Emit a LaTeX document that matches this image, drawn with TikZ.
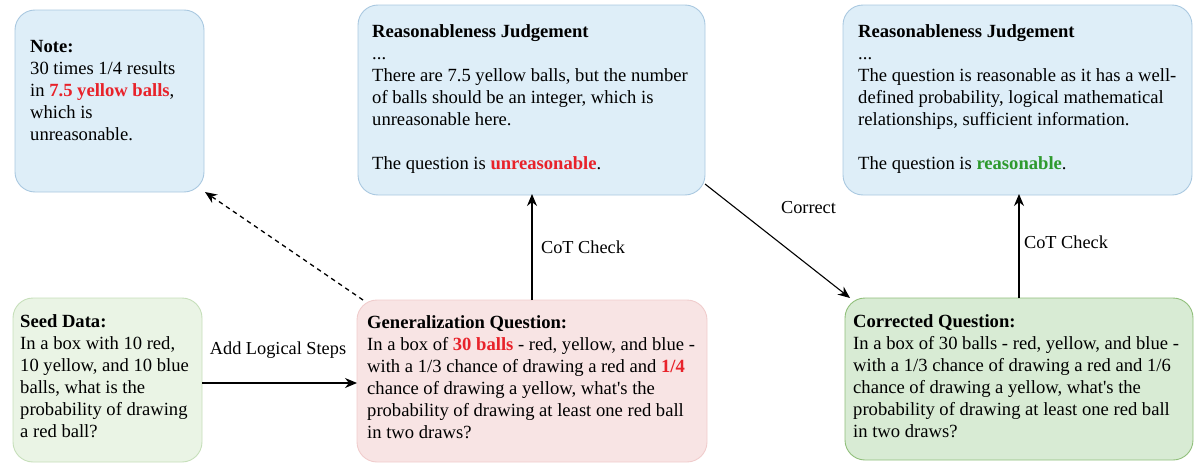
\documentclass[tikz,border=0pt]{standalone}
\usepackage{fontspec}
\setmainfont{Liberation Serif}
\usetikzlibrary{arrows.meta}
\definecolor{bluefill}{HTML}{DEEEF8}
\definecolor{bluedraw}{HTML}{A9C8E0}
\definecolor{pinkfill}{HTML}{F8E4E4}
\definecolor{pinkdraw}{HTML}{F0CCCC}
\definecolor{seedfill}{HTML}{EAF4E5}
\definecolor{seeddraw}{HTML}{C6DFBA}
\definecolor{corrfill}{HTML}{D8EBD4}
\definecolor{corrdraw}{HTML}{90BF7A}
\definecolor{hired}{HTML}{E8222A}
\definecolor{higreen}{HTML}{2E9A2E}
\newcommand{\rd}[1]{\textcolor{hired}{\textbf{#1}}}
\newcommand{\gr}[1]{\textcolor{higreen}{\textbf{#1}}}
\newcommand{\ap}{\textquotesingle}
\tikzset{
  panel/.style={draw, line width=0.9pt, rounded corners=20pt, inner sep=0pt},
  txt/.style={anchor=north west, inner sep=0pt, align=left, font=\fontsize{18.6}{22}\selectfont},
  lbl/.style={inner sep=0pt, font=\fontsize{18.3}{22}\selectfont},
  arr/.style={line width=1.1pt, -{Stealth[length=12pt, width=10pt]}},
}
\begin{document}
\begin{tikzpicture}[x=1pt, y=-1pt]
\useasboundingbox (0,0) rectangle (1203,463);
% boxes
\node[panel, fill=bluefill, draw=bluedraw, minimum width=189pt, minimum height=182pt] (note) at (109.5,101) {};
\node[panel, fill=bluefill, draw=bluedraw, minimum width=347pt, minimum height=190pt] (r1) at (531.5,100) {};
\node[panel, fill=bluefill, draw=bluedraw, minimum width=349pt, minimum height=190pt] (r2) at (1017.5,100) {};
\node[panel, fill=seedfill, draw=seeddraw, minimum width=189pt, minimum height=164pt] (seed) at (107.5,380) {};
\node[panel, fill=pinkfill, draw=pinkdraw, minimum width=350pt, minimum height=162pt] (gen) at (532,381) {};
\node[panel, fill=corrfill, draw=corrdraw, minimum width=348pt, minimum height=162pt] (corr) at (1019,379) {};
% texts
\node[txt] (notet) at (30,36.6) {\strut\textbf{Note:}\\30 times 1/4 results\\in \rd{7.5 yellow balls},\\which is\\unreasonable.};
\node[txt] (r1t) at (372,21.6) {\strut\textbf{Reasonableness Judgement}\\...\\There are 7.5 yellow balls, but the number\\of balls should be an integer, which is\\unreasonable here.\\[22pt]The question is \rd{unreasonable}.};
\node[txt] (r2t) at (858,21.6) {\strut\textbf{Reasonableness Judgement}\\...\\The question is reasonable as it has a well-\\defined probability, logical mathematical\\relationships, sufficient information.\\[22pt]The question is \gr{reasonable}.};
\node[txt] (seedt) at (20,311.6) {\strut\textbf{Seed Data:}\\In a box with 10 red,\\10 yellow, and 10 blue\\balls, what is the\\probability of drawing\\a red ball?};
\node[txt] (gent) at (367,312.6) {\strut\textbf{Generalization Question:}\\In a box of \rd{30 balls} - red, yellow, and blue -\\with a 1/3 chance of drawing a red and \rd{1/4}\\chance of drawing a yellow, what\ap{}s the\\probability of drawing at least one red ball\\in two draws?};
\node[txt] (corrt) at (853,311.6) {\strut\textbf{Corrected Question:}\\In a box of 30 balls - red, yellow, and blue -\\with a 1/3 chance of drawing a red and 1/6\\chance of drawing a yellow, what\ap{}s the\\probability of drawing at least one red ball\\in two draws?};
% connector end points
\coordinate (seedE) at (202,383);
\coordinate (genW) at (357,383);
\coordinate (genN) at (532,300);
\coordinate (r1S) at (532,194);
\coordinate (genNW) at (363,300);
\coordinate (noteSE) at (205,192);
\coordinate (r1SE) at (705,184);
\coordinate (corrNW) at (850,298);
\coordinate (corrN) at (1019,298);
\coordinate (r2S) at (1019,194);
% connectors
\draw[arr] (seedE) -- (genW);
\draw[arr] (genN) -- (r1S);
\draw[arr, dashed, dash pattern=on 4.5pt off 4pt, line width=1.3pt] (genNW) -- (noteSE);
\draw[arr] (r1SE) -- (corrNW);
\draw[arr] (corrN) -- (r2S);
% labels
\node[lbl] (l1) at (278,350) {Add Logical Steps};
\node[lbl] (l2) at (583,247) {CoT Check};
\node[lbl] (l3) at (808.5,208) {Correct};
\node[lbl] (l4) at (1066,242) {CoT Check};
\end{tikzpicture}
\end{document}
